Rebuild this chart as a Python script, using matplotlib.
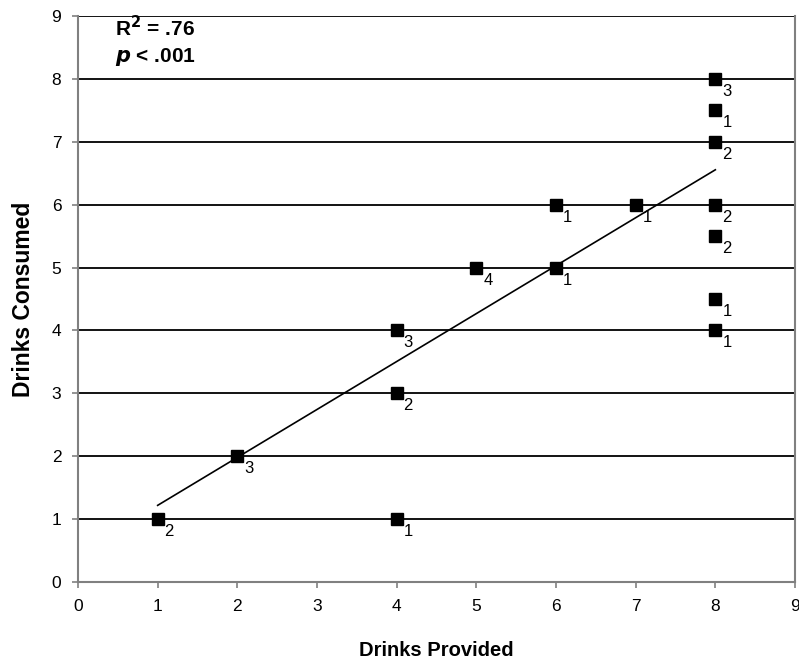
import numpy as np
import matplotlib
matplotlib.use("Agg")
import matplotlib.pyplot as plt

plt.rcParams["font.family"] = ["Liberation Sans", "DejaVu Sans"]

# drinks provided / consumed, with number of participants at each point
provided = [1, 2, 4, 4, 4, 5, 6, 6, 7, 8, 8, 8, 8, 8, 8, 8]
consumed = [1, 2, 1, 3, 4, 5, 5, 6, 6, 8, 7.5, 7, 6, 5.5, 4.5, 4]
counts = [2, 3, 1, 2, 3, 4, 1, 1, 1, 3, 1, 2, 2, 2, 1, 1]
ticks = list(range(10))

# weighted least squares trend line
xs = np.repeat(provided, counts)
ys = np.repeat(consumed, counts)
slope, intercept = np.polyfit(xs, ys, 1)
line_x = np.array([min(provided), max(provided)])

fig = plt.figure(figsize=(7.99, 6.67), dpi=100)
ax = fig.add_axes([0.0976, 0.1274, 0.8974, 0.8486])

for y in ticks[1:]:
    ax.axhline(y, color="black", linewidth=1.3, zorder=1)

ax.plot(line_x, slope * line_x + intercept, color="black", linewidth=1.2, zorder=2)
ax.plot(provided, consumed, linestyle="none", marker="s", markersize=8.5,
        color="black", zorder=3)

for x, y, n in zip(provided, consumed, counts):
    ax.annotate(str(n), (x, y), xytext=(5, -9), textcoords="offset points",
                fontsize=12, ha="left", va="center")

ax.set_xlim(0, 9)
ax.set_ylim(0, 9)
ax.set_xticks(ticks)
ax.set_yticks(ticks)
ax.tick_params(direction="out", length=4, width=1.2, color="#808080",
               labelsize=12.5, pad=8)
for side in ("left", "bottom", "right"):
    ax.spines[side].set_color("#808080")
    ax.spines[side].set_linewidth(1.5)
ax.spines["top"].set_visible(False)

ax.set_xlabel("Drinks Provided", fontsize=14.5, fontweight="bold", labelpad=20)
ax.set_ylabel("Drinks Consumed", fontsize=16.5, fontweight="bold", labelpad=12)

ax.text(0.46, 8.81, r"R$^\mathbf{2}$ = .76", fontsize=15, fontweight="bold", va="center")
ax.text(0.46, 8.35, r"$\mathbfit{p}$ < .001", fontsize=15, fontweight="bold", va="center")

fig.savefig("out.png", dpi=100)
